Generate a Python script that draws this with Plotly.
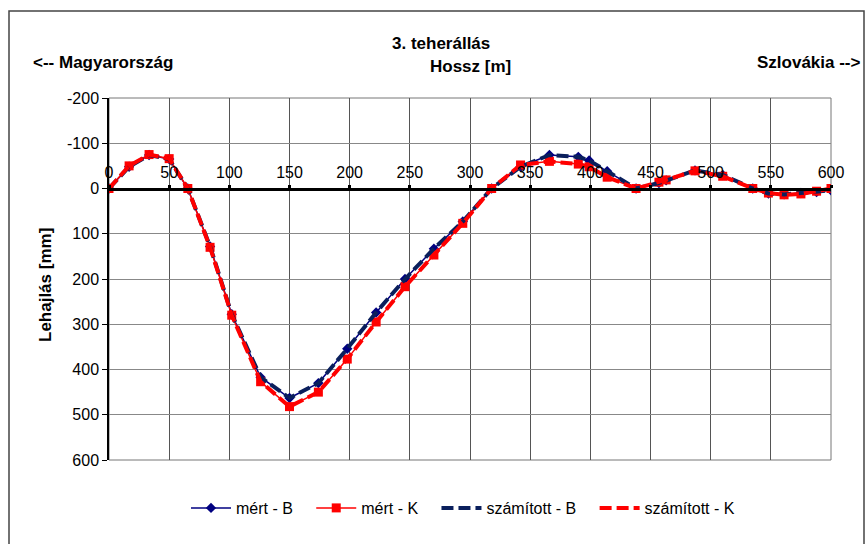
import plotly.graph_objects as go

# Data
x_pos = [0, 16.7, 33.3, 50, 65.5, 84, 102, 126, 150, 174, 198, 222, 246, 270, 294, 318,
         342, 366, 390, 399, 414, 438, 457, 463, 487, 510, 535, 548, 561, 575, 588, 600]
mert_B = [0, -48, -74, -65, 0, 128, 278, 417, 463, 430, 354, 274, 200, 133, 73, 0,
          -48, -74, -70, -62, -38, 0, -12, -18, -40, -30, 0, 11, 13, 10, 8, 4]
mert_K = [0, -50, -75, -66, 0, 130, 280, 427, 482, 450, 377, 295, 217, 147, 77, 0,
          -52, -60, -54, -48, -25, 0, -14, -19, -39, -27, 0, 10, 14, 12, 6, 0]
szam_B = list(mert_B)
szam_K = list(mert_K)

x_ticks = [0, 50, 100, 150, 200, 250, 300, 350, 400, 450, 500, 550, 600]
y_ticks = [-200, -100, 0, 100, 200, 300, 400, 500, 600]
y_tick_labels = ["-200", "-100", "0", "100", "200", "300", "400", "500", "600"]
series_names = ["mért - B", "mért - K", "számított - B", "számított - K"]

FONT = "Liberation Sans, Arial, sans-serif"
NAVY = "#000080"
DNAVY = "#0a1f5c"
RED = "#ff0000"
PAD = "\u00a0" * 3

fig = go.Figure()
fig.add_trace(go.Scatter(x=x_pos, y=mert_B, name=series_names[0] + PAD, mode="lines+markers",
                         line=dict(color=NAVY, width=1.5),
                         marker=dict(symbol="diamond", size=8, color=NAVY)))
fig.add_trace(go.Scatter(x=x_pos, y=mert_K, name=series_names[1] + PAD, mode="lines+markers",
                         line=dict(color=RED, width=1.5),
                         marker=dict(symbol="square", size=9, color=RED)))
fig.add_trace(go.Scatter(x=x_pos, y=szam_B, name=series_names[2] + PAD, mode="lines",
                         line=dict(color=DNAVY, width=4, dash="12px,5px")))
fig.add_trace(go.Scatter(x=x_pos, y=szam_K, name=series_names[3], mode="lines",
                         line=dict(color=RED, width=4, dash="12px,5px")))

L, R, T, B = 109, 35, 98, 84
W, H = 866, 544
pw, ph = W - L - R, H - T - B

def px(xp):
    return (xp - L) / pw

def py(yp):
    return (H - B - yp) / ph

fig.update_layout(
    width=W, height=H,
    margin=dict(l=L, r=R, t=T, b=B),
    paper_bgcolor="white", plot_bgcolor="white",
    font=dict(family=FONT, size=15, color="black"),
    showlegend=True,
    legend=dict(orientation="h", x=px(463), xanchor="center", y=py(508), yanchor="middle",
                font=dict(size=16), itemwidth=40, traceorder="normal"),
    xaxis=dict(range=[0, 600], tickvals=x_ticks, side="top", anchor="free", position=0.75,
               showline=True, linecolor="black", linewidth=3,
               ticks="outside", ticklen=3, tickwidth=3, tickcolor="black",
               showgrid=True, gridcolor="#555555", gridwidth=1,
               zeroline=False, tickfont=dict(size=16)),
    yaxis=dict(range=[600, -200], tickvals=y_ticks, ticktext=y_tick_labels,
               showline=True, linecolor="black",
               linewidth=1.5, ticks="outside", ticklen=5, tickcolor="black",
               showgrid=True, gridcolor="#888888", gridwidth=1,
               zeroline=False, tickfont=dict(size=16)),
)

annots = [
    dict(text="<b>3. teherállás</b>", x=px(441), y=py(43), size=17, xanchor="center"),
    dict(text="<b>Hossz [m]</b>", x=px(470), y=py(66), size=17, xanchor="center"),
    dict(text="<b><-- Magyarország</b>", x=px(31), y=py(63), size=17, xanchor="left"),
    dict(text="<b>Szlovákia --></b>", x=px(863), y=py(63), size=17, xanchor="right"),
]
for a in annots:
    fig.add_annotation(text=a["text"], x=a["x"], y=a["y"], xref="paper", yref="paper",
                       xanchor=a["xanchor"], yanchor="middle", showarrow=False,
                       font=dict(size=a["size"], family=FONT, color="black"))
fig.add_annotation(text="<b>Lehajlás [mm]</b>", x=px(45), y=py(285), xref="paper", yref="paper",
                   textangle=-90, showarrow=False, xanchor="center", yanchor="middle",
                   font=dict(size=17, family=FONT, color="black"))

# plot-area frame (top and right edges as grey gridlines)
fig.add_shape(type="rect", xref="paper", yref="paper", x0=0, x1=1, y0=0, y1=1,
              line=dict(color="#777777", width=1), fillcolor="rgba(0,0,0,0)", layer="below")
# chart-area border
fig.add_shape(type="rect", xref="paper", yref="paper",
              x0=px(9), x1=px(864), y0=py(560), y1=py(11),
              line=dict(color="#444444", width=1.5), fillcolor="rgba(0,0,0,0)", layer="below")

fig.write_html("out.html")
